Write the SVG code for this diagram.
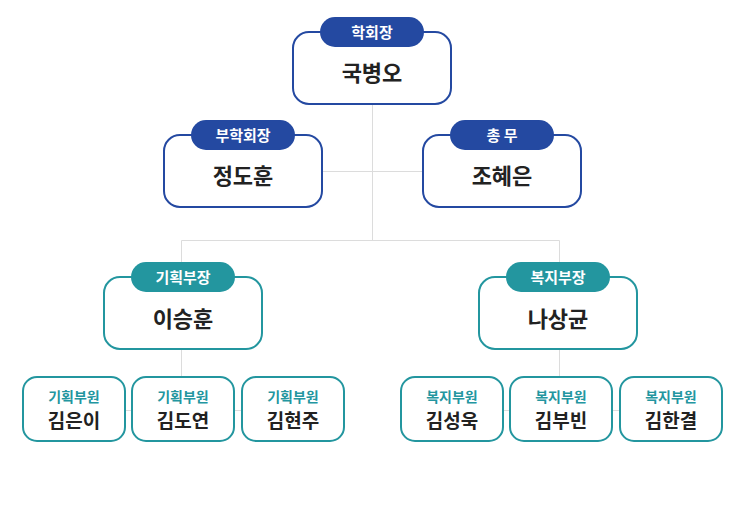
<svg xmlns="http://www.w3.org/2000/svg" width="743" height="522" viewBox="0 0 743 522">
<style>
.box{fill:#fff;stroke-width:2}
.b{stroke:#2449a1}
.t{stroke:#23969f}
.pb{fill:#2449a1}
.pt{fill:#23969f}
.lab{font-family:"Noto Sans CJK KR","Noto Sans",sans-serif;font-weight:700;font-size:15px;fill:#fff;text-anchor:middle}
.nm{font-family:"Noto Sans CJK KR","Noto Sans",sans-serif;font-weight:700;font-size:22px;fill:#222;text-anchor:middle}
.sl{font-family:"Noto Sans CJK KR","Noto Sans",sans-serif;font-weight:700;font-size:14px;fill:#23969f;text-anchor:middle}
.sn{font-family:"Noto Sans CJK KR","Noto Sans",sans-serif;font-weight:700;font-size:19px;fill:#222;text-anchor:middle}
.ln{stroke:#dcdcdc;stroke-width:1;fill:none}
</style>
<rect width="743" height="522" fill="#fff"/>
<g id="connectors">
<path class="ln" d="M372.5 104V240.5M322 171.5H423M181.5 240.5H559.5M181.5 240.5V277M559.5 240.5V277M181.5 350V377M559.5 350V377M74 410.5H293M452 410.5H671"/>
</g>
<g id="n-president">
<rect class="box b" x="293" y="32" width="158" height="72" rx="16"/>
<rect class="pb" x="320" y="17" width="104" height="30" rx="15"/>
<text class="lab" x="372" y="38">학회장</text>
<text class="nm" x="372" y="81">국병오</text>
</g>
<g id="n-vice">
<rect class="box b" x="164" y="135" width="158" height="72" rx="16"/>
<rect class="pb" x="191" y="120" width="104" height="30" rx="15"/>
<text class="lab" x="243" y="141">부학회장</text>
<text class="nm" x="243" y="184">정도훈</text>
</g>
<g id="n-general">
<rect class="box b" x="423" y="135" width="158" height="72" rx="16"/>
<rect class="pb" x="450" y="120" width="104" height="30" rx="15"/>
<text class="lab" x="502" y="141">총 무</text>
<text class="nm" x="502" y="184">조혜은</text>
</g>
<g id="n-plan">
<rect class="box t" x="104" y="277" width="158" height="72" rx="16"/>
<rect class="pt" x="131" y="262" width="104" height="30" rx="15"/>
<text class="lab" x="183" y="283">기획부장</text>
<text class="nm" x="183" y="327">이승훈</text>
</g>
<g id="n-welfare">
<rect class="box t" x="479" y="277" width="158" height="72" rx="16"/>
<rect class="pt" x="506" y="262" width="104" height="30" rx="15"/>
<text class="lab" x="558" y="283">복지부장</text>
<text class="nm" x="558" y="327">나상균</text>
</g>
<g id="n-p1">
<rect class="box t" x="23" y="377" width="102" height="64" rx="14"/>
<text class="sl" x="74" y="402">기획부원</text>
<text class="sn" x="74" y="428">김은이</text>
</g>
<g id="n-p2">
<rect class="box t" x="132" y="377" width="102" height="64" rx="14"/>
<text class="sl" x="183" y="402">기획부원</text>
<text class="sn" x="183" y="428">김도연</text>
</g>
<g id="n-p3">
<rect class="box t" x="242" y="377" width="102" height="64" rx="14"/>
<text class="sl" x="293" y="402">기획부원</text>
<text class="sn" x="293" y="428">김현주</text>
</g>
<g id="n-w1">
<rect class="box t" x="401" y="377" width="102" height="64" rx="14"/>
<text class="sl" x="452" y="402">복지부원</text>
<text class="sn" x="452" y="428">김성욱</text>
</g>
<g id="n-w2">
<rect class="box t" x="510" y="377" width="102" height="64" rx="14"/>
<text class="sl" x="561" y="402">복지부원</text>
<text class="sn" x="561" y="428">김부빈</text>
</g>
<g id="n-w3">
<rect class="box t" x="620" y="377" width="102" height="64" rx="14"/>
<text class="sl" x="671" y="402">복지부원</text>
<text class="sn" x="671" y="428">김한결</text>
</g>
</svg>
